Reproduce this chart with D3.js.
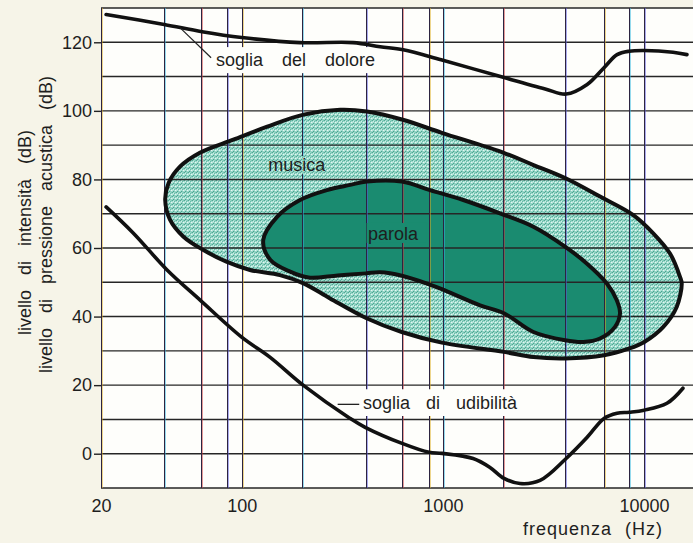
<!DOCTYPE html>
<html><head><meta charset="utf-8">
<script src="https://cdn.jsdelivr.net/npm/d3@7"></script>
<style>
html,body{margin:0;padding:0;background:#f6f4e8;}
svg{display:block;}
text{font-family:"Liberation Sans",Arial,Helvetica,sans-serif;fill:#1e1e1e;}
</style></head><body>
<svg id="chart" width="693" height="543"></svg>
<script>
// ---------- DATA ----------
const xTickValues = [20, 100, 1000, 10000];
const xGridFreqs = [20, 41, 63, 85, 100, 200, 415, 630, 855, 1000, 2000, 4050, 6350, 8450, 10000];
const yTickValues = [0, 20, 40, 60, 80, 100, 120];
const yGridValues = [-10, 0, 10, 20, 30, 40, 50, 60, 70, 80, 90, 100, 110, 120, 130];

// soglia del dolore (pain threshold)
const painFreq = [21.2, 41.2, 63.6, 100, 195, 358, 488, 635, 980, 2014, 3224, 4098, 5213, 6322, 7341, 8433, 10000, 13920, 16330];
const painDb   = [128.1, 125.2, 123.1, 121.4, 119.9, 119.9, 118.7, 117.8, 114.9, 109.7, 106.4, 104.9, 107.7, 112.6, 116.4, 117.4, 117.6, 117.1, 116.4];

// soglia di udibilità (hearing threshold)
const hearFreq = [21.2, 28.9, 42.6, 62.2, 100, 138.6, 202, 346, 411, 627, 854, 991, 1413, 1715, 2014, 2418, 3041, 4098, 5213, 6322, 7341, 8433, 10000, 12990, 15600];
const hearDb   = [72.0, 64.4, 53.6, 44.8, 34.0, 28.1, 20.0, 10.3, 7.7, 3.0, 0.4, 0.1, -1.4, -4.0, -7.2, -8.7, -7.8, -1.4, 4.8, 10.3, 11.8, 12.1, 12.7, 14.7, 19.1];

// area "musica" (closed outline)
const musicFreq = [41.7, 43.3, 49.5, 62, 91, 134, 203, 309, 419, 632, 988, 2020, 2820, 4050, 6040, 8840, 11100, 13450, 15080, 15380, 14520, 12460, 10020, 8440, 6320, 4050, 2820, 2010, 988, 625, 415, 275, 203, 155, 110, 84, 64.6, 51.4, 44.1];
const musicDb   = [74.0, 78.9, 83.8, 87.8, 91.6, 95.4, 98.9, 100.3, 99.8, 97.4, 93.6, 87.7, 84.2, 80.4, 75.0, 69.6, 64.3, 58.4, 51.6, 49.7, 42.8, 37.0, 32.6, 30.7, 28.7, 27.8, 28.2, 29.7, 32.4, 35.5, 39.6, 45.3, 49.7, 52.1, 53.6, 56.0, 59.4, 63.3, 68.2];

// area "parola" (closed outline)
const speechFreq = [128, 150, 195, 265, 346, 419, 625, 864, 1264, 1924, 2817, 4046, 5187, 6518, 7309, 7591, 7172, 6039, 4989, 4046, 2817, 2021, 1530, 988, 854, 625, 488, 415, 300, 215, 174, 139];
const speechDb   = [62.3, 69.1, 74.0, 76.9, 78.4, 79.4, 79.4, 76.9, 74.0, 70.1, 66.2, 60.4, 55.5, 49.7, 44.8, 40.9, 37.0, 33.6, 32.6, 33.1, 35.5, 40.9, 43.3, 48.0, 49.4, 51.9, 52.9, 52.6, 52.0, 51.4, 53.1, 56.5];

// ---------- CHART ----------
const svg = d3.select('#chart');
const x = d3.scaleLog().domain([20, 17500]).range([101, 693]);
const y = d3.scaleLinear().domain([-10, 130]).range([488, 8]);

const defs = svg.append('defs');
const pat = defs.append('pattern').attr('id', 'stip')
  .attr('patternUnits', 'userSpaceOnUse').attr('width', 4).attr('height', 4);
pat.append('rect').attr('width', 4).attr('height', 4).attr('fill', '#9cd9ca');
[[0,0,'#52a995'],[2,1,'#66baa8'],[1,3,'#4aa28f'],[3,2,'#e6f7f2'],[1,1,'#d0efe7'],[3,0,'#79c5b4'],[0,2,'#b8e8dd'],[2,3,'#86cdbd']]
  .forEach(d => pat.append('rect').attr('x', d[0]).attr('y', d[1]).attr('width', 1).attr('height', 1).attr('fill', d[2]));

// background
svg.append('rect').attr('width', 693).attr('height', 543).attr('fill', '#f6f4e8');
svg.append('rect').attr('x', x(20)).attr('y', y(130))
  .attr('width', x.range()[1] - x(20)).attr('height', y(-10) - y(130)).attr('fill', '#fefefb');

const pts = (fs, ds) => fs.map((f, i) => [f, ds[i]]);
const closedLine = d3.line().x(d => x(d[0])).y(d => y(d[1])).curve(d3.curveCatmullRomClosed.alpha(0.5));
const openLine = d3.line().x(d => x(d[0])).y(d => y(d[1])).curve(d3.curveCatmullRom.alpha(0.5));

const musicPts = pts(musicFreq, musicDb);
const speechPts = pts(speechFreq, speechDb);

// fills
svg.append('path').attr('d', closedLine(musicPts)).attr('fill', 'url(#stip)');
svg.append('path').attr('d', closedLine(speechPts)).attr('fill', '#1a8b70');

// horizontal grid
svg.append('g').selectAll('line').data(yGridValues).join('line')
  .attr('x1', x(20)).attr('x2', x.range()[1])
  .attr('y1', d => y(d)).attr('y2', d => y(d))
  .attr('stroke', '#262626').attr('stroke-width', 1.4);

// vertical grid (scanned look: dark line + coloured fringe)
const fringe = ['#e0b020', '#2fb8e0', '#d03a3a', '#5858e0', '#e0b020', '#2fb8e0', '#5858e0', '#d03a3a'];
const px = d => Math.round(x(d)) + 0.5;
const vg = svg.append('g');
vg.selectAll('line.f').data(xGridFreqs).join('line').attr('class', 'f')
  .attr('x1', d => px(d) + 1).attr('x2', d => px(d) + 1)
  .attr('y1', y(130)).attr('y2', y(-10))
  .attr('stroke', (d, i) => fringe[i % fringe.length]).attr('stroke-width', 1).attr('opacity', 0.5);
vg.selectAll('line.m').data(xGridFreqs).join('line').attr('class', 'm')
  .attr('x1', d => px(d)).attr('x2', d => px(d))
  .attr('y1', y(130)).attr('y2', y(-10))
  .attr('stroke', '#2c2440').attr('stroke-width', 1);

// label backgrounds (hide vertical grid behind labels)
svg.append('rect').attr('x', x(73)).attr('y', y(118.6)).attr('width', 168).attr('height', y(111) - y(118.6)).attr('fill', '#fefefb');
svg.append('rect').attr('x', x(395)).attr('y', y(18.8)).attr('width', 164).attr('height', y(11) - y(18.8)).attr('fill', '#fefefb');
svg.append('rect').attr('x', x(131)).attr('y', y(86.8)).attr('width', 64).attr('height', 18).attr('fill', 'url(#stip)');
svg.append('rect').attr('x', x(418)).attr('y', y(67.3)).attr('width', 60).attr('height', 20).attr('fill', '#1a8b70');

// outlines
svg.append('path').attr('d', closedLine(musicPts)).attr('fill', 'none').attr('stroke', '#111').attr('stroke-width', 4);
svg.append('path').attr('d', closedLine(speechPts)).attr('fill', 'none').attr('stroke', '#111').attr('stroke-width', 4);

// thresholds
svg.append('path').attr('d', openLine(pts(painFreq, painDb))).attr('fill', 'none')
  .attr('stroke', '#111').attr('stroke-width', 3.6).attr('stroke-linecap', 'round');
svg.append('path').attr('d', openLine(pts(hearFreq, hearDb))).attr('fill', 'none')
  .attr('stroke', '#111').attr('stroke-width', 3.6).attr('stroke-linecap', 'round');

// leaders
svg.append('line').attr('x1', x(49.5)).attr('y1', y(124.2)).attr('x2', x(70.5)).attr('y2', y(115.5))
  .attr('stroke', '#222').attr('stroke-width', 1.2);
svg.append('line').attr('x1', x(300)).attr('y1', y(14.4)).attr('x2', x(384)).attr('y2', y(14.4))
  .attr('stroke', '#222').attr('stroke-width', 1.3);

// annotation texts
const ann = (t, f, db, ws) => svg.append('text').attr('x', x(f)).attr('y', y(db))
  .attr('font-size', 18).style('word-spacing', ws + 'px').text(t);
ann('soglia del dolore', 74.5, 113.2, 14);
ann('soglia di udibilità', 401, 12.9, 11);
ann('musica', 135.5, 82.6, 0);
ann('parola', 425, 62.3, 0);

// axes
const yAxis = svg.append('g').attr('transform', `translate(${x(20)},0)`)
  .call(d3.axisLeft(y).tickValues(yTickValues).tickSize(7).tickPadding(2).tickFormat(d3.format('d')));
yAxis.select('.domain').remove();
yAxis.selectAll('.tick line').attr('stroke', '#222').attr('stroke-width', 1.4);
yAxis.selectAll('text').attr('font-size', 18).attr('font-family', '"Liberation Sans",Arial,sans-serif').attr('fill', '#1e1e1e');

const xAxis = svg.append('g').attr('transform', `translate(0,${y(-10)})`)
  .call(d3.axisBottom(x).tickValues(xTickValues).tickSize(0).tickPadding(11).tickFormat(d3.format('d')));
xAxis.select('.domain').remove();
xAxis.selectAll('text').attr('font-size', 18).attr('font-family', '"Liberation Sans",Arial,sans-serif').attr('fill', '#1e1e1e');

// axis titles
svg.append('text').attr('x', 523).attr('y', 535).attr('font-size', 18)
  .style('letter-spacing', '1px').style('word-spacing', '7px').text('frequenza (Hz)');
svg.append('text').attr('transform', 'translate(31,335) rotate(-90)').attr('font-size', 18)
  .style('word-spacing', '10px').text('livello di intensità (dB)');
svg.append('text').attr('transform', 'translate(52,373) rotate(-90)').attr('font-size', 18)
  .style('word-spacing', '10px').text('livello di pressione acustica (dB)');
</script>
</body></html>
